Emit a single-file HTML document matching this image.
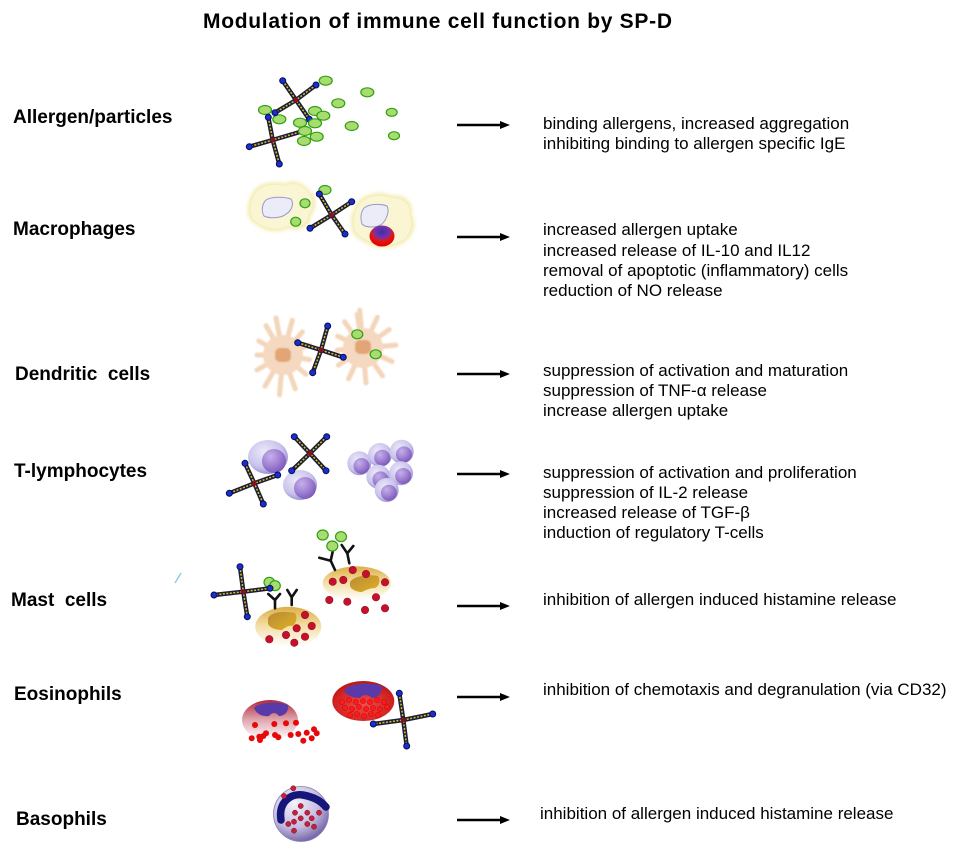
<!DOCTYPE html>
<html><head><meta charset="utf-8">
<style>
html,body{margin:0;padding:0;background:#fff;}
svg{display:block;}
.t{font-family:"Liberation Sans",Arial,sans-serif;font-size:17px;fill:#000;white-space:pre;}
.l{font-family:"Liberation Sans",Arial,sans-serif;font-size:19px;font-weight:bold;fill:#000;white-space:pre;}
.a{stroke:#1c1c3c;stroke-width:4.5;stroke-linecap:round;fill:none;}
.b{stroke:#d4c418;stroke-width:1.5;stroke-dasharray:2 1.5;fill:none;}
.k{fill:#1630d0;stroke:#0a0a50;stroke-width:1;}
.c{fill:#8a1020;}
.g{fill:#a8dc70;stroke:#30a010;stroke-width:1.2;}
.r{fill:#c8102e;stroke:#901020;stroke-width:0.6;}
.er{fill:#e80808;}
.y{stroke:#111;stroke-width:2.6;fill:none;stroke-linecap:round;stroke-linejoin:round;}
.d{stroke:#f2d0b2;stroke-width:5;stroke-linecap:round;fill:none;opacity:.9;}
.ar{stroke:#000;stroke-width:2.6;}
</style></head>
<body>
<svg width="960" height="850" viewBox="0 0 960 850" xmlns="http://www.w3.org/2000/svg">
<defs>
<filter id="blur2" x="-20%" y="-20%" width="140%" height="140%"><feGaussianBlur stdDeviation="2.2"/></filter>
<filter id="blur1" x="-20%" y="-20%" width="140%" height="140%"><feGaussianBlur stdDeviation="0.9"/></filter>
<radialGradient id="rball" cx="50%" cy="30%" r="70%"><stop offset="0" stop-color="#3a30b0"/><stop offset="0.45" stop-color="#8030a0"/><stop offset="0.6" stop-color="#e01818"/><stop offset="1" stop-color="#e00000"/></radialGradient>
<radialGradient id="lymO" cx="40%" cy="35%" r="65%"><stop offset="0" stop-color="#eceaf8"/><stop offset="0.7" stop-color="#c8c2ec"/><stop offset="1" stop-color="#9e96d4"/></radialGradient>
<radialGradient id="lymI" cx="35%" cy="30%" r="75%"><stop offset="0" stop-color="#c4b0ea"/><stop offset="0.6" stop-color="#9c7cd0"/><stop offset="1" stop-color="#7a58b8"/></radialGradient>
<linearGradient id="mast" x1="0" y1="0" x2="0" y2="1"><stop offset="0" stop-color="#dcae48"/><stop offset="0.45" stop-color="#f3dca0"/><stop offset="1" stop-color="#ffffff"/></linearGradient>
<linearGradient id="mnuc" x1="0" y1="0" x2="1" y2="1"><stop offset="0" stop-color="#b88a38"/><stop offset="1" stop-color="#e0b020"/></linearGradient>
<linearGradient id="eos1" x1="0" y1="0" x2="0" y2="1"><stop offset="0" stop-color="#b02838"/><stop offset="0.5" stop-color="#e0a8b0"/><stop offset="1" stop-color="#ffffff"/></linearGradient>
<radialGradient id="eos2" cx="50%" cy="60%" r="60%"><stop offset="0" stop-color="#f05050"/><stop offset="0.8" stop-color="#d02020"/><stop offset="1" stop-color="#b01818"/></radialGradient>
<radialGradient id="baso" cx="38%" cy="30%" r="75%"><stop offset="0" stop-color="#f4f2fa"/><stop offset="0.6" stop-color="#c4bce0"/><stop offset="1" stop-color="#6c5ca0"/></radialGradient>
</defs>

<!-- Title -->
<text x="203" y="28" font-family="'Liberation Sans',Arial,sans-serif" font-size="21" font-weight="bold" textLength="469" lengthAdjust="spacing">Modulation of immune cell function by SP-D</text>

<!-- Labels -->
<text class="l" x="13" y="123">Allergen/particles</text>
<text class="l" x="13" y="235">Macrophages</text>
<text class="l" x="15" y="380">Dendritic  cells</text>
<text class="l" x="14" y="477">T-lymphocytes</text>
<text class="l" x="11" y="606">Mast  cells</text>
<text class="l" x="14" y="700">Eosinophils</text>
<text class="l" x="16" y="825">Basophils</text>

<!-- Arrows -->
<g>
<line class="ar" x1="457" y1="125" x2="502" y2="125"/><polygon points="500,121 510,125 500,129"/>
<line class="ar" x1="457" y1="237" x2="502" y2="237"/><polygon points="500,233 510,237 500,241"/>
<line class="ar" x1="457" y1="374" x2="502" y2="374"/><polygon points="500,370 510,374 500,378"/>
<line class="ar" x1="457" y1="474" x2="502" y2="474"/><polygon points="500,470 510,474 500,478"/>
<line class="ar" x1="457" y1="606" x2="502" y2="606"/><polygon points="500,602 510,606 500,610"/>
<line class="ar" x1="457" y1="697" x2="502" y2="697"/><polygon points="500,693 510,697 500,701"/>
<line class="ar" x1="457" y1="820" x2="502" y2="820"/><polygon points="500,816 510,820 500,824"/>
</g>

<!-- Right text -->
<text class="t" x="543" y="129">binding allergens, increased aggregation</text>
<text class="t" x="543" y="149">inhibiting binding to allergen specific IgE</text>

<text class="t" x="543" y="235">increased allergen uptake</text>
<text class="t" x="543" y="256">increased release of IL-10 and IL12</text>
<text class="t" x="543" y="276">removal of apoptotic (inflammatory) cells</text>
<text class="t" x="543" y="296">reduction of NO release</text>

<text class="t" x="543" y="376">suppression of activation and maturation</text>
<text class="t" x="543" y="396">suppression of TNF-α release</text>
<text class="t" x="543" y="416">increase allergen uptake</text>

<text class="t" x="543" y="478">suppression of activation and proliferation</text>
<text class="t" x="543" y="498">suppression of IL-2 release</text>
<text class="t" x="543" y="518">increased release of TGF-β</text>
<text class="t" x="543" y="538">induction of regulatory T-cells</text>

<text class="t" x="543" y="605">inhibition of allergen induced histamine release</text>
<text class="t" x="543" y="695">inhibition of chemotaxis and degranulation (via CD32)</text>
<text class="t" x="540" y="819">inhibition of allergen induced histamine release</text>

<!-- ===== Allergen/particles ===== -->
<g>
<ellipse class="g" cx="325.7" cy="80.7" rx="6.5" ry="4.5"/>
<ellipse class="g" cx="367.3" cy="92.3" rx="6.5" ry="4.5"/>
<ellipse class="g" cx="338.3" cy="103.3" rx="6.5" ry="4.5"/>
<ellipse class="g" cx="391.7" cy="112.3" rx="5.5" ry="4"/>
<ellipse class="g" cx="265" cy="110" rx="6.5" ry="4.5"/>
<ellipse class="g" cx="279.3" cy="119.3" rx="6.5" ry="4.5"/>
<ellipse class="g" cx="351.7" cy="126" rx="6.5" ry="4.5"/>
<ellipse class="g" cx="394" cy="135.7" rx="5.5" ry="4"/>
</g>
<g>
<path class="a" d="M282.7,80.7L296,100L309.3,119.3M316,85L296,100L275,112.7"/>
<path class="b" d="M282.7,80.7L296,100L309.3,119.3M316,85L296,100L275,112.7"/>
<circle class="k" cx="282.7" cy="80.7" r="3"/><circle class="k" cx="316" cy="85" r="3"/><circle class="k" cx="309.3" cy="119.3" r="3"/><circle class="k" cx="275" cy="112.7" r="3"/>
<circle class="c" cx="296" cy="100" r="2.5"/>
<path class="a" d="M268.3,117.3L272.7,140L279.3,164M303.3,131L272.7,140L249.3,146.7"/>
<path class="b" d="M268.3,117.3L272.7,140L279.3,164M303.3,131L272.7,140L249.3,146.7"/>
<circle class="k" cx="268.3" cy="117.3" r="3"/><circle class="k" cx="303.3" cy="131" r="3"/><circle class="k" cx="279.3" cy="164" r="3"/><circle class="k" cx="249.3" cy="146.7" r="3"/>
<circle class="c" cx="272.7" cy="140" r="2.5"/>
</g>
<g>
<ellipse class="g" cx="315" cy="111" rx="6.5" ry="4.5"/>
<ellipse class="g" cx="323.3" cy="115.7" rx="6.5" ry="4.5"/>
<ellipse class="g" cx="300" cy="122.7" rx="6.5" ry="4.5"/>
<ellipse class="g" cx="315" cy="123.3" rx="6.5" ry="4.5"/>
<ellipse class="g" cx="305" cy="131" rx="6.5" ry="4.5"/>
<ellipse class="g" cx="316.7" cy="136.7" rx="6.5" ry="4.5"/>
<ellipse class="g" cx="304" cy="141" rx="6.5" ry="4.5"/>
</g>

<!-- ===== Macrophages ===== -->
<g>
<path d="M252,195 C255,185 270,180 285,184 C295,178 305,185 310,192 C318,198 316,210 310,216 C312,226 298,232 288,228 C278,234 262,230 256,224 C246,220 246,205 252,195 Z" fill="#f2eaa8" filter="url(#blur2)"/>
<path d="M254,196 C257,187 270,183 285,186 C295,181 304,187 308,193 C315,199 313,210 308,215 C309,224 297,229 288,226 C278,231 263,228 257,222 C249,218 249,205 254,196 Z" fill="#faf6d4"/>
<path d="M266,200 C272,196 285,197 291,199 C295,205 290,212 286,214 C282,218 270,219 264,216 C261,211 262,204 266,200 Z" fill="#ececf8" stroke="#9898c8" stroke-width="1"/>
<path d="M356,205 C362,195 378,190 392,196 C405,194 414,204 411,214 C418,224 412,240 400,244 C390,250 372,248 362,240 C350,236 348,220 356,205 Z" fill="#f2eaa8" filter="url(#blur2)"/>
<path d="M358,206 C364,197 378,193 391,198 C403,197 411,205 409,214 C414,224 410,238 399,242 C389,247 373,245 363,238 C353,234 351,220 358,206 Z" fill="#faf6d4"/>
<path d="M364,208 C370,203 382,204 387,206 C390,212 386,220 382,224 C376,228 366,228 362,224 C360,218 361,212 364,208 Z" fill="#ececf8" stroke="#9898c8" stroke-width="1"/>
<ellipse cx="382" cy="236" rx="12.5" ry="10.5" fill="url(#rball)"/>
<ellipse class="g" cx="325" cy="190" rx="6" ry="4.5"/>
<ellipse class="g" cx="305" cy="203.3" rx="5" ry="4.5"/>
<ellipse class="g" cx="295.7" cy="221.7" rx="5" ry="4.5"/>
<path class="a" d="M319.3,194L331.7,215L345,234M351.7,201.7L331.7,215L310,228.3"/>
<path class="b" d="M319.3,194L331.7,215L345,234M351.7,201.7L331.7,215L310,228.3"/>
<circle class="k" cx="319.3" cy="194" r="3"/><circle class="k" cx="351.7" cy="201.7" r="3"/><circle class="k" cx="345" cy="234" r="3"/><circle class="k" cx="310" cy="228.3" r="3"/>
<circle class="c" cx="331.7" cy="215" r="2.5"/>
</g>

<!-- ===== Dendritic cells ===== -->
<g filter="url(#blur1)">
<path class="d" d="M283,355L276,318M283,355L292.3,320.2M283,355L302.3,332M283,355L309.3,345.4M283,355L309.6,359.7M283,355L306,374.3M283,355L295.3,388.8M283,355L279.5,394.8M283,355L265,386.2M283,355L257,370M283,355L257,355M283,355L258.8,341M283,355L266,325.6"/>
<circle cx="283" cy="355" r="20" fill="#f5d8c0"/>
<path class="d" d="M363,348L359.7,310.1M363,348L377.4,317.2M363,348L389.2,329.6M363,348L395.9,345.1M363,348L392,361.5M363,348L382.5,375.9M363,348L366,382.9M363,348L348.6,378.8M363,348L338.4,365.2M363,348L337.1,350.3M363,348L337.6,336.2M363,348L344.6,321.8M363,348L357.1,314.5"/>
<circle cx="363" cy="348" r="20" fill="#f5d8c0"/>
<rect x="275" y="348" width="16" height="14" rx="5" fill="#e2a676"/>
<rect x="355" y="340" width="16" height="14" rx="5" fill="#e2a676"/>
</g>
<g>
<ellipse class="g" cx="357.3" cy="334.3" rx="5.5" ry="4.5"/>
<ellipse class="g" cx="375.7" cy="354.3" rx="5.5" ry="4.5"/>
<path class="a" d="M327.7,326L321,350L312.7,372.7M343.3,357.3L321,350L297.7,342.7"/>
<path class="b" d="M327.7,326L321,350L312.7,372.7M343.3,357.3L321,350L297.7,342.7"/>
<circle class="k" cx="327.7" cy="326" r="3"/><circle class="k" cx="343.3" cy="357.3" r="3"/><circle class="k" cx="312.7" cy="372.7" r="3"/><circle class="k" cx="297.7" cy="342.7" r="3"/>
<circle class="c" cx="321" cy="350" r="2.5"/>
</g>

<!-- ===== T-lymphocytes ===== -->
<g>
<ellipse cx="268" cy="457" rx="20" ry="17" fill="url(#lymO)"/>
<circle cx="274" cy="461" r="12" fill="url(#lymI)"/>
<ellipse cx="300" cy="485" rx="17" ry="15" fill="url(#lymO)"/>
<circle cx="305" cy="488" r="11" fill="url(#lymI)"/>
<circle cx="359.3" cy="463.3" r="12" fill="url(#lymO)"/><circle cx="361.5" cy="466" r="8" fill="url(#lymI)"/>
<circle cx="380" cy="455" r="12" fill="url(#lymO)"/><circle cx="382.2" cy="457.7" r="8" fill="url(#lymI)"/>
<circle cx="401.7" cy="451.7" r="12" fill="url(#lymO)"/><circle cx="403.9" cy="454.4" r="8" fill="url(#lymI)"/>
<circle cx="378.3" cy="476.7" r="12" fill="url(#lymO)"/><circle cx="380.5" cy="479.4" r="8" fill="url(#lymI)"/>
<circle cx="401" cy="473.3" r="12" fill="url(#lymO)"/><circle cx="403.2" cy="476" r="8" fill="url(#lymI)"/>
<circle cx="386.7" cy="490" r="12" fill="url(#lymO)"/><circle cx="388.9" cy="492.7" r="8" fill="url(#lymI)"/>
<path class="a" d="M294.3,436.7L310,453.3L326,470.7M326.7,436.7L310,453.3L291.7,470.7"/>
<path class="b" d="M294.3,436.7L310,453.3L326,470.7M326.7,436.7L310,453.3L291.7,470.7"/>
<circle class="k" cx="294.3" cy="436.7" r="3"/><circle class="k" cx="326.7" cy="436.7" r="3"/><circle class="k" cx="326" cy="470.7" r="3"/><circle class="k" cx="291.7" cy="470.7" r="3"/>
<circle class="c" cx="310" cy="453.3" r="2.5"/>
<path class="a" d="M245,463.3L254.3,483.3L263.3,504M277.7,475L254.3,483.3L229.3,493.3"/>
<path class="b" d="M245,463.3L254.3,483.3L263.3,504M277.7,475L254.3,483.3L229.3,493.3"/>
<circle class="k" cx="245" cy="463.3" r="3"/><circle class="k" cx="277.7" cy="475" r="3"/><circle class="k" cx="263.3" cy="504" r="3"/><circle class="k" cx="229.3" cy="493.3" r="3"/>
<circle class="c" cx="254.3" cy="483.3" r="2.5"/>
</g>

<!-- cyan slash -->
<line x1="175" y1="583" x2="181" y2="573" stroke="#8fd0e0" stroke-width="1.5"/>

<!-- ===== Mast cells ===== -->
<g>
<ellipse cx="356.7" cy="583.3" rx="34" ry="17" fill="url(#mast)"/>
<path d="M350,582 C354,576 368,574 378,576 C381,581 379,586 375,588 C370,588 366,590 362,592 C356,592 351,589 350,586 Z" fill="url(#mnuc)"/>
<circle class="r" cx="352.7" cy="570" r="3.7"/><circle class="r" cx="332.7" cy="581.7" r="3.7"/><circle class="r" cx="343.3" cy="580" r="3.7"/><circle class="r" cx="366" cy="574" r="3.7"/><circle class="r" cx="385" cy="582.3" r="3.7"/>
<circle class="r" cx="329.3" cy="600" r="3.7"/><circle class="r" cx="347.3" cy="601.7" r="3.7"/><circle class="r" cx="376" cy="597.3" r="3.7"/><circle class="r" cx="365" cy="610" r="3.7"/><circle class="r" cx="385" cy="608.3" r="3.7"/>
<path class="y" d="M319.3,557.7L330.7,560.7L335,570M330.7,560.7L332.7,551.7"/>
<path class="y" d="M341.7,545L347.3,553.3L349.3,563.3M347.3,553.3L353.3,546"/>
<ellipse class="g" cx="322.7" cy="535" rx="5.5" ry="5"/>
<ellipse class="g" cx="341" cy="536.7" rx="5.5" ry="5"/>
<ellipse class="g" cx="332.3" cy="546" rx="5.5" ry="5"/>
<ellipse cx="288.3" cy="626.7" rx="33" ry="20" fill="url(#mast)"/>
<path d="M268,618 C272,611 285,611 295,613 C298,618 296,624 292,626 C288,625 285,628 282,630 C276,630 270,628 268,624 Z" fill="url(#mnuc)"/>
<circle class="r" cx="305" cy="615" r="3.7"/><circle class="r" cx="311.7" cy="626" r="3.7"/><circle class="r" cx="296.7" cy="628.3" r="3.7"/><circle class="r" cx="286" cy="635" r="3.7"/><circle class="r" cx="305" cy="636.7" r="3.7"/><circle class="r" cx="269.3" cy="639.3" r="3.7"/><circle class="r" cx="294.3" cy="642.7" r="3.7"/>
<path class="y" d="M275,608.3L275,600L268.3,594M275,600L280,594"/>
<path class="y" d="M291.7,605L291.7,597.3L287.3,590M291.7,597.3L296.7,590"/>
<ellipse class="g" cx="269.3" cy="582.3" rx="5.3" ry="5"/>
<ellipse class="g" cx="275" cy="585.7" rx="5.3" ry="5"/>
<path class="a" d="M240,566.7L243.3,591.7L247.3,616.7M270,588.3L243.3,591.7L214,595"/>
<path class="b" d="M240,566.7L243.3,591.7L247.3,616.7M270,588.3L243.3,591.7L214,595"/>
<circle class="k" cx="240" cy="566.7" r="3"/><circle class="k" cx="270" cy="588.3" r="3"/><circle class="k" cx="247.3" cy="616.7" r="3"/><circle class="k" cx="214" cy="595" r="3"/>
<circle class="c" cx="243.3" cy="591.7" r="2.5"/>
</g>

<!-- ===== Eosinophils ===== -->
<g>
<ellipse cx="270" cy="720" rx="28" ry="20" fill="url(#eos1)"/>
<path d="M254,708 C258,702 280,701 288,705 C289,711 285,716 279,716 C276,712 272,712 269,716 C263,717 256,714 254,708 Z" fill="#5a3aa8"/>
<circle class="er" cx="255" cy="725" r="3"/><circle class="er" cx="274.3" cy="724" r="3"/><circle class="er" cx="286" cy="723.3" r="3"/><circle class="er" cx="296" cy="722.7" r="3"/>
<circle class="er" cx="251.7" cy="738.3" r="3"/><circle class="er" cx="259.3" cy="736.7" r="3"/><circle class="er" cx="266" cy="733.3" r="3"/><circle class="er" cx="275" cy="735" r="3"/><circle class="er" cx="278.3" cy="737.3" r="3"/>
<circle class="er" cx="290.7" cy="735" r="3"/><circle class="er" cx="298.3" cy="734" r="3"/><circle class="er" cx="306.7" cy="732.7" r="3"/><circle class="er" cx="314" cy="729.3" r="3"/><circle class="er" cx="316.7" cy="733.3" r="3"/>
<circle class="er" cx="311.7" cy="738.3" r="3"/><circle class="er" cx="303.3" cy="740.7" r="3"/><circle class="er" cx="260" cy="740" r="3"/><circle class="er" cx="263.3" cy="736" r="3"/>

<ellipse cx="363.3" cy="701" rx="31" ry="20" fill="url(#eos2)"/>
<path d="M344,690 C350,683 372,682 382,686 C383,692 378,698 372,698 C368,694 363,694 360,698 C352,698 346,695 344,690 Z" fill="#5a3aa8"/>
<g fill="#ff1a1a" stroke="#b00000" stroke-width="0.4">
<circle cx="342" cy="702" r="2.6"/><circle cx="349" cy="700" r="2.6"/><circle cx="356" cy="702" r="2.6"/><circle cx="363" cy="701" r="2.6"/><circle cx="370" cy="702" r="2.6"/><circle cx="377" cy="700" r="2.6"/><circle cx="384" cy="702" r="2.6"/>
<circle cx="345" cy="708" r="2.6"/><circle cx="352" cy="709" r="2.6"/><circle cx="359" cy="707" r="2.6"/><circle cx="366" cy="709" r="2.6"/><circle cx="373" cy="708" r="2.6"/><circle cx="380" cy="709" r="2.6"/><circle cx="387" cy="707" r="2.6"/>
<circle cx="350" cy="715" r="2.6"/><circle cx="357" cy="714" r="2.6"/><circle cx="364" cy="716" r="2.6"/><circle cx="371" cy="714" r="2.6"/><circle cx="378" cy="715" r="2.6"/>
</g>
<path class="a" d="M399.3,693.3L403.3,720L406.7,746M432.7,714L403.3,720L373.3,724"/>
<path class="b" d="M399.3,693.3L403.3,720L406.7,746M432.7,714L403.3,720L373.3,724"/>
<circle class="k" cx="399.3" cy="693.3" r="3"/><circle class="k" cx="432.7" cy="714" r="3"/><circle class="k" cx="406.7" cy="746" r="3"/><circle class="k" cx="373.3" cy="724" r="3"/>
<circle class="c" cx="403.3" cy="720" r="2.5"/>
</g>

<!-- ===== Basophil ===== -->
<g>
<circle cx="301" cy="814" r="27.5" fill="url(#baso)" stroke="#8a80b8" stroke-width="0.8"/>
<path d="M281,820 C278,801 292,793 303,795 C313,797 320,800 326,807" stroke="#16167a" stroke-width="7.5" fill="none" stroke-linecap="round"/>
<g fill="#c42040" stroke="#801020" stroke-width="0.5">
<circle cx="293.3" cy="788.3" r="2.6"/><circle cx="284" cy="796" r="2.6"/><circle cx="300.7" cy="806" r="2.6"/><circle cx="295" cy="812.7" r="2.6"/><circle cx="307.3" cy="812.7" r="2.6"/><circle cx="319" cy="812.7" r="2.6"/>
<circle cx="300.7" cy="818.3" r="2.6"/><circle cx="311.7" cy="818.3" r="2.6"/><circle cx="294" cy="821.7" r="2.6"/><circle cx="288.3" cy="824" r="2.6"/><circle cx="307.3" cy="824" r="2.6"/><circle cx="314" cy="826.7" r="2.6"/><circle cx="294" cy="830.7" r="2.6"/>
</g>
</g>
</svg>
</body></html>
